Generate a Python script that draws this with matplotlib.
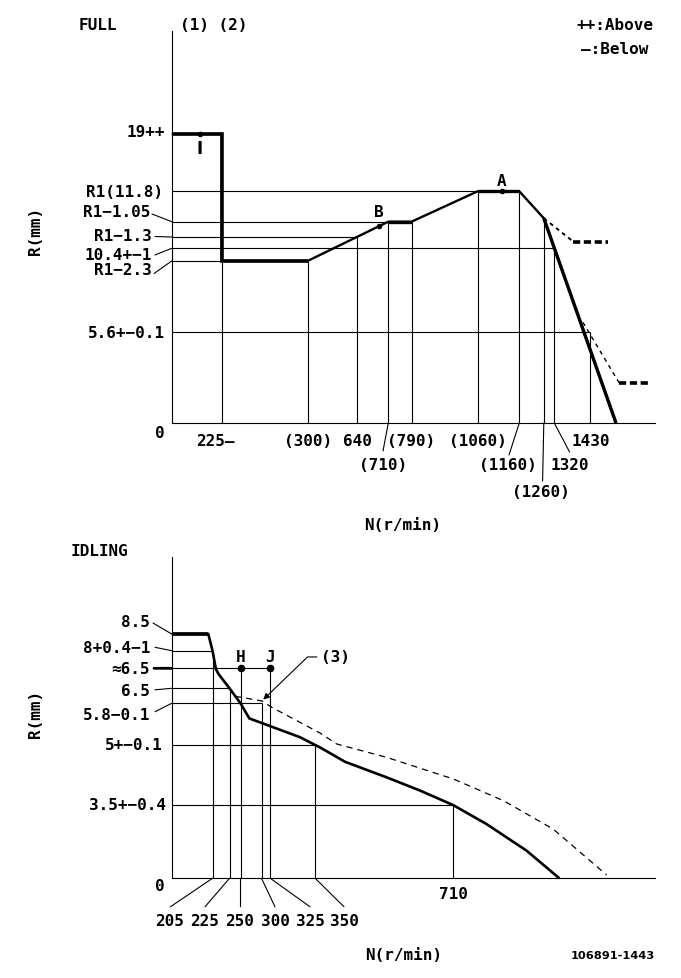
import numpy as np
import matplotlib
matplotlib.use("Agg")
import matplotlib.pyplot as plt
from matplotlib import font_manager

# ---------------------------------------------------------------
# FULL load chart: N (r/min) against rack position R (mm)
# ---------------------------------------------------------------
full_n_ticks = [225, 300, 640, 710, 790, 1060, 1160, 1260, 1320, 1430]
full_n_labels = ["225—", "(300)", "640", "(710)", "(790)", "(1060)",
                 "(1160)", "(1260)", "1320", "1430"]
full_r_levels = [5.6, 9.5, 10.4, 10.5, 10.75, 11.8, 19]
full_r_labels = ["5.6+−0.1", "R1−2.3", "10.4+−1", "R1−1.3", "R1−1.05",
                 "R1(11.8)", "19++"]

full_curve_n = [0, 225, 225, 300, 710, 790, 1060, 1160, 1260, 1510]
full_curve_r = [19, 19, 9.5, 9.5, 10.75, 10.75, 11.8, 11.8, 10.87, 0]
full_upper_n = [1260, 1378, 1486]
full_upper_r = [10.87, 10.46, 10.46]
full_lower_n = [1408, 1520, 1612]
full_lower_r = [6.15, 2.47, 2.47]

# reference lines: horizontal (level, end N) and vertical (N, top R)
full_h_level = [11.8, 10.75, 10.5, 10.4, 9.5, 5.6]
full_h_end = [1060, 710, 640, 1320, 225, 1430]
full_v_n = [225, 300, 640, 710, 790, 1060, 1160, 1260, 1320, 1430]
full_v_top = [9.5, 9.5, 10.5, 10.75, 10.75, 11.8, 11.8, 10.87, 10.4, 5.6]

full_marks = ["I", "B", "A"]
full_mark_n = [127, 690, 1118]
full_mark_r = [19, 10.68, 11.8]

# ---------------------------------------------------------------
# IDLING chart
# ---------------------------------------------------------------
idle_n_ticks = [205, 225, 250, 300, 325, 350, 710]
idle_n_labels = ["205", "225", "250", "300", "325", "350", "710"]
idle_r_levels = [3.5, 5.0, 5.8, 6.5, 7.0, 8.0, 8.5]
idle_r_labels = ["3.5+−0.4", "5+−0.1", "5.8−0.1", "6.5", "≈6.5",
                 "8+0.4−1", "8.5"]

idle_curve_n = [0, 184, 205, 209, 212, 225, 250, 271, 341.5, 350, 362.5,
                428, 537, 624, 710, 798, 903, 989]
idle_curve_r = [8.5, 8.5, 8.0, 6.98, 6.86, 6.5, 5.8, 5.51, 5.15, 5.0, 4.94,
                4.58, 4.19, 3.86, 3.5, 2.59, 1.32, 0]
idle_dash_n = [237.5, 301, 326.5, 362.5, 406, 537, 711, 842, 973, 1113]
idle_dash_r = [6.13, 5.91, 5.71, 5.23, 5.02, 4.69, 4.15, 3.61, 2.35, 0.16]

idle_h_level = [8.0, 7.0, 6.5, 5.8, 5.0, 3.5]
idle_h_end = [205, 325, 225, 300, 350, 710]
idle_v_n = [205, 225, 250, 300, 325, 350, 710]
idle_v_top = [8.0, 6.5, 7.0, 5.8, 7.0, 5.0, 3.5]

idle_marks = ["H", "J"]
idle_mark_n = [250, 325]
idle_mark_r = [7.0, 7.0]
idle_arrow_tip = (305, 5.97)

# ---------------------------------------------------------------
# layout (image pixels) and schematic scales
# ---------------------------------------------------------------
W, H = 681, 979
PT = 72 / 100  # points per pixel at dpi 100
FONT = dict(family="DejaVu Sans Mono", weight="bold", size=11.5)
names = {f.name for f in font_manager.fontManager.ttflist}
if "Liberation Sans Narrow" in names:
    SMALL = dict(family="Liberation Sans Narrow", size=11)
elif "DejaVu Sans Condensed" in names:
    SMALL = dict(family="DejaVu Sans Condensed", size=8.8)
else:
    SMALL = dict(family="DejaVu Sans", size=8.2)

FULL_X_PX = [171.7, 221.7, 307.5, 357.4, 388.3, 411.5, 477.7, 519.3, 543.8, 554.3, 590, 655]
FULL_Y_PX = [424, 333.3, 262, 249.3, 238, 222.7, 192.3, 135, 32]
FULL_N_MAX, FULL_R_MAX = 1630, 32
IDLE_X_PX = [171.7, 212.5, 229.5, 240.5, 261.5, 270.3, 315.2, 453, 655]
IDLE_Y_PX = [879.3, 806, 746, 704.3, 689.3, 669.3, 651.7, 635, 558.3]
IDLE_N_MAX, IDLE_R_MAX = 1240, 10.8


def knot_scale(vals, px, flip=False):
    vals = np.asarray(vals, float)
    px = -np.asarray(px, float) if flip else np.asarray(px, float)
    return (lambda v: np.interp(v, vals, px)), (lambda p: np.interp(p, px, vals))


def make_axes(fig, xk, xpx, yk, ypx):
    ax = fig.add_axes([xpx[0] / W, 1 - ypx[0] / H,
                       (xpx[-1] - xpx[0]) / W, (ypx[0] - ypx[-1]) / H])
    ax.set_xscale("function", functions=knot_scale(xk, xpx))
    ax.set_yscale("function", functions=knot_scale(yk, ypx, flip=True))
    ax.set_xlim(xk[0], xk[-1])
    ax.set_ylim(yk[0], yk[-1])
    ax.set_xticks([])
    ax.set_yticks([])
    ax.minorticks_off()
    for s in ["top", "right"]:
        ax.spines[s].set_visible(False)
    for s in ["left", "bottom"]:
        ax.spines[s].set_linewidth(0.8)
    return ax


def put(ax, s, xy, dx, dy, ha="center", va="center", **kw):
    style = dict(FONT)
    style.update(kw)
    ax.annotate(s, xy=xy, xytext=(dx * PT, -dy * PT), textcoords="offset points",
                ha=ha, va=va, annotation_clip=False, **style)


def leader(ax, xy, dx, dy, lw=0.8):
    ax.annotate("", xy=xy, xytext=(dx * PT, -dy * PT), textcoords="offset points",
                annotation_clip=False,
                arrowprops=dict(arrowstyle="-", lw=lw, color="black", shrinkA=0, shrinkB=0))


def ftext(fig, s, x, y, ha="center", va="center", **kw):
    style = dict(FONT)
    style.update(kw)
    fig.text(x / W, 1 - y / H, s, ha=ha, va=va, **style)


fig = plt.figure(figsize=(6.81, 9.79), dpi=100)
line = dict(color="black", clip_on=False, solid_capstyle="butt", solid_joinstyle="miter")

# ---------------------------- FULL -----------------------------
ax = make_axes(fig, [0] + full_n_ticks + [FULL_N_MAX], FULL_X_PX,
               [0] + full_r_levels + [FULL_R_MAX], FULL_Y_PX)

for lvl, end in zip(full_h_level, full_h_end):
    ax.plot([0, end], [lvl, lvl], lw=0.8, **line)
for n, top in zip(full_v_n, full_v_top):
    ax.plot([n, n], [0, top], lw=0.8, **line)

ax.plot(full_curve_n, full_curve_r, lw=1.7, **line)
ax.plot(full_curve_n[:4], full_curve_r[:4], lw=2.6, **line)
for a, b in [(4, 6), (6, 8), (8, 10)]:
    ax.plot(full_curve_n[a:b], full_curve_r[a:b], lw=2.4, **line)

ax.plot(full_upper_n[:2], full_upper_r[:2], lw=1.4, dashes=(2, 2), color="black", clip_on=False)
ax.plot(full_upper_n[1:], full_upper_r[1:], lw=2.6, dashes=(2, 1), color="black", clip_on=False)
ax.plot(full_lower_n[:2], full_lower_r[:2], lw=1.0, dashes=(3, 3), color="black", clip_on=False)
ax.plot(full_lower_n[1:], full_lower_r[1:], lw=2.6, dashes=(2, 1), color="black", clip_on=False)

ax.plot(full_mark_n, full_mark_r, "o", ms=3, color="black", clip_on=False)
put(ax, "I", (full_mark_n[0], full_mark_r[0]), 0, 14, family="DejaVu Sans", size=12)
put(ax, "B", (full_mark_n[1], full_mark_r[1]), -1, -14.4)
put(ax, "A", (full_mark_n[2], full_mark_r[2]), 0, -10.6)

# y labels: (dx of right edge, dy of text centre, leader start or None)
full_y_text = {
    5.6: (-6.7, 0, None),
    9.5: (-19.5, 9, (-17.7, 12.5)),
    10.4: (-19.7, 6.7, (-16.7, 6.7)),
    10.5: (-19.7, -1, (-16.7, -0.5)),
    10.75: (-21.7, -9.7, (-19.7, -7.7)),
    11.8: (-8.7, 0, None),
    19: (-6.7, -2, None),
}
for lvl, lab in zip(full_r_levels, full_r_labels):
    dx, dy, ld = full_y_text[lvl]
    put(ax, lab, (0, lvl), dx, dy, ha="right")
    if ld:
        leader(ax, (0, lvl), *ld)
put(ax, "0", (0, 0), -11.7, 9)

# x labels: (dx of centre, dy of centre, leader end or None)
full_x_text = {
    225: (-25.2, 17.7, None), 300: (0.5, 17.7, None), 640: (0, 17.7, None),
    790: (0, 17.7, None), 1060: (0, 17.7, None), 1430: (0.7, 17.7, None),
    710: (-5.7, 41, (-5.3, 28)), 1160: (-11.7, 41, (-10.3, 32)),
    1320: (15.7, 41, (15.3, 29)), 1260: (-2.8, 68.3, (-1.2, 58)),
}
for n, lab in zip(full_n_ticks, full_n_labels):
    dx, dy, ld = full_x_text[n]
    put(ax, lab, (n, 0), dx, dy, ha="left" if n == 225 else "center")
    if ld:
        leader(ax, (n, 0), *ld)

# ---------------------------- IDLING ---------------------------
bx = make_axes(fig, [0] + idle_n_ticks + [IDLE_N_MAX], IDLE_X_PX,
               [0] + idle_r_levels + [IDLE_R_MAX], IDLE_Y_PX)

for lvl, end in zip(idle_h_level, idle_h_end):
    bx.plot([0, end], [lvl, lvl], lw=0.8, **line)
for n, top in zip(idle_v_n, idle_v_top):
    bx.plot([n, n], [0, top], lw=0.8, **line)

bx.plot(idle_curve_n, idle_curve_r, lw=1.9, **line)
bx.plot(idle_curve_n[:2], idle_curve_r[:2], lw=2.6, **line)
bx.plot(idle_dash_n, idle_dash_r, lw=0.9, dashes=(5, 4), color="black", clip_on=False)

bx.plot(idle_mark_n, idle_mark_r, "o", ms=4.5, color="black", clip_on=False)
for m, n, r in zip(idle_marks, idle_mark_n, idle_mark_r):
    put(bx, m, (n, r), 0, -11.6)

bx.annotate("(3)", xy=idle_arrow_tip, xytext=(72.2 * PT, 42.7 * PT),
            textcoords="offset points", ha="center", va="center",
            annotation_clip=False, **FONT,
            arrowprops=dict(arrowstyle="-|>", connectionstyle="angle,angleA=180,angleB=44,rad=0",
                            relpos=(0, 0.5), shrinkA=1, shrinkB=0, lw=0.8,
                            mutation_scale=9, color="black"))

idle_y_text = {
    3.5: (-5.2, 0, None, 0.8),
    5.0: (-8.7, 0, None, 0.8),
    5.8: (-21.7, 10.7, (-16.7, 8.4), 0.8),
    6.5: (-21.7, 1.7, (-16.7, 1.5), 0.8),
    7.0: (-21.7, 0, (-17.7, 0), 2.0),
    8.0: (-21.7, -3.4, (-16.7, -3.4), 0.8),
    8.5: (-21.7, -12.3, (-18.7, -11), 0.8),
}
for lvl, lab in zip(idle_r_levels, idle_r_labels):
    dx, dy, ld, lw = idle_y_text[lvl]
    put(bx, lab, (0, lvl), dx, dy, ha="right")
    if ld:
        leader(bx, (0, lvl), *ld, lw=lw)
put(bx, "0", (0, 0), -11.7, 7.7)

idle_x_text = {
    205: (-42.5, -42.1), 225: (-24.5, -24.5), 250: (-0.5, 0),
    300: (13.5, 13.5), 325: (39.7, 39.7), 350: (28.8, 28.8),
}
for n, lab in zip(idle_n_ticks, idle_n_labels):
    if n in idle_x_text:
        tdx, ldx = idle_x_text[n]
        put(bx, lab, (n, 0), tdx, 42.4)
        leader(bx, (n, 0), ldx, 28.5)
    else:
        put(bx, lab, (n, 0), 0, 15.7)

# ---------------------------- titles ---------------------------
ftext(fig, "FULL", 97.5, 26)
ftext(fig, "(1) (2)", 214, 26)
ftext(fig, "++:Above", 576.7, 26, ha="left")
ftext(fig, "—:Below", 581, 49, ha="left")
ftext(fig, "R(mm)", 35.7, 231, rotation=90)
ftext(fig, "N(r/min)", 403, 525)
ftext(fig, "IDLING", 99, 552)
ftext(fig, "R(mm)", 35.7, 714, rotation=90)
ftext(fig, "N(r/min)", 404, 955.5)
ftext(fig, "106891-1443", 655, 955.7, ha="right", **SMALL)

fig.savefig("out.png", dpi=100)
